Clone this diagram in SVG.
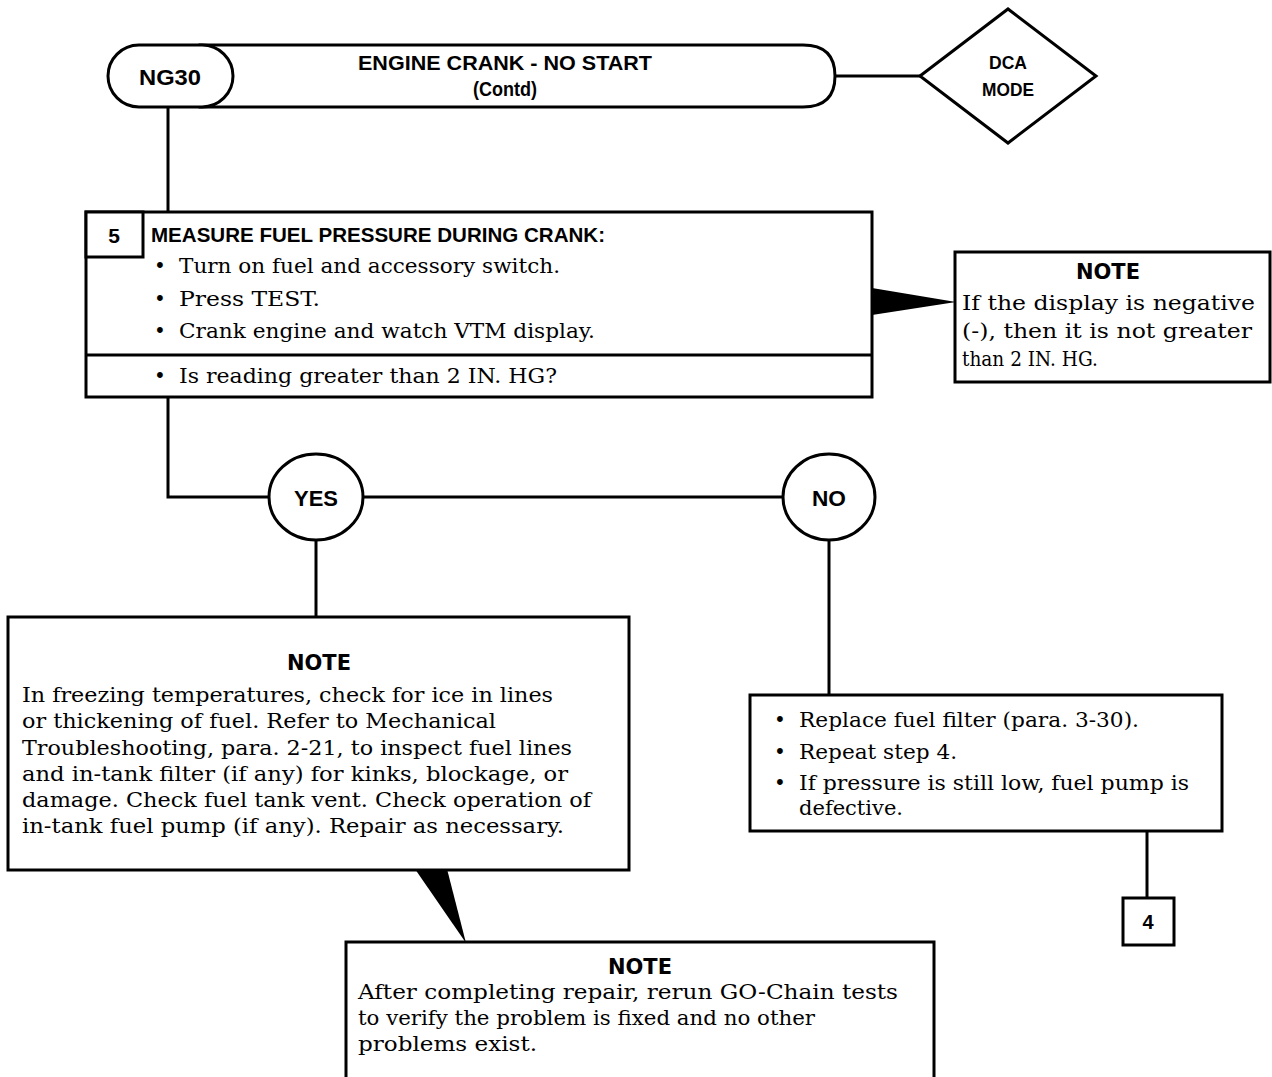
<svg xmlns="http://www.w3.org/2000/svg" width="1272" height="1077" viewBox="0 0 1272 1077">
<style>
.box{fill:#fff;stroke:#000;stroke-width:3}
.ln{fill:none;stroke:#000;stroke-width:3}
.wedge{fill:#000;stroke:none}
.hd{font-family:"Liberation Sans","DejaVu Sans",sans-serif;font-weight:bold;fill:#000;text-anchor:middle}
.note{font-family:"DejaVu Sans","Liberation Sans",sans-serif;font-weight:900;font-size:22px;fill:#000;text-anchor:middle}
.tx{font-family:"DejaVu Serif","Liberation Serif",serif;font-size:20px;fill:#000}
.bul{font-family:"DejaVu Serif","Liberation Serif",serif;font-size:20px;fill:#000;text-anchor:middle}
</style>
<rect width="1272" height="1077" fill="#fff"/>
<g id="connectors">
<path class="ln" d="M835 76 H920"/>
<path class="ln" d="M168 107 V212"/>
<path class="ln" d="M168 397 V497 H269"/>
<path class="ln" d="M363 497 H783"/>
<path class="ln" d="M316 540 V617"/>
<path class="ln" d="M829 540 V695"/>
<path class="ln" d="M1147 831 V898"/>
<polygon class="wedge" points="872,288 872,315 956,302"/>
<polygon class="wedge" points="415,869 447,869 466,943"/>
</g>
<g id="header">
<path class="box" d="M200 45 H803 Q835 45 835 76 Q835 107 803 107 H200 Z"/>
<text class="hd" x="505" y="70" font-size="21" textLength="294" lengthAdjust="spacingAndGlyphs">ENGINE CRANK - NO START</text>
<text class="hd" x="505" y="96" font-size="21" textLength="64" lengthAdjust="spacingAndGlyphs">(Contd)</text>
</g>
<g id="ng30">
<rect class="box" x="108" y="45" width="125" height="62" rx="31" ry="31"/>
<text class="hd" x="170" y="85" font-size="22" textLength="62" lengthAdjust="spacingAndGlyphs">NG30</text>
</g>
<g id="dca">
<polygon class="box" points="920,76 1008,9 1096,76 1008,143"/>
<text class="hd" x="1008" y="69" font-size="19" textLength="38" lengthAdjust="spacingAndGlyphs">DCA</text>
<text class="hd" x="1008" y="96" font-size="19" textLength="52" lengthAdjust="spacingAndGlyphs">MODE</text>
</g>
<g id="step5">
<rect class="box" x="86" y="212" width="786" height="185"/>
<rect class="box" x="86" y="212" width="57" height="45"/>
<path class="ln" d="M86 355 H872"/>
<text class="hd" x="114" y="243" font-size="21">5</text>
<text class="hd" x="151" y="242" font-size="20" style="text-anchor:start" textLength="454" lengthAdjust="spacingAndGlyphs">MEASURE FUEL PRESSURE DURING CRANK:</text>
<text class="bul" x="160" y="273">•</text>
<text class="tx" x="179" y="273" font-size="21" textLength="381" lengthAdjust="spacingAndGlyphs">Turn on fuel and accessory switch.</text>
<text class="bul" x="160" y="306">•</text>
<text class="tx" x="179" y="306" font-size="21" textLength="141" lengthAdjust="spacingAndGlyphs">Press TEST.</text>
<text class="bul" x="160" y="338">•</text>
<text class="tx" x="179" y="338" font-size="21" textLength="416" lengthAdjust="spacingAndGlyphs">Crank engine and watch VTM display.</text>
<text class="bul" x="160" y="383">•</text>
<text class="tx" x="179" y="383" font-size="21" textLength="378" lengthAdjust="spacingAndGlyphs">Is reading greater than 2 IN. HG?</text>
</g>
<g id="note1">
<rect class="box" x="955" y="252" width="315" height="130"/>
<text class="note" x="1108" y="279" textLength="64" lengthAdjust="spacingAndGlyphs">NOTE</text>
<text class="tx" x="962" y="310" font-size="21" textLength="293" lengthAdjust="spacingAndGlyphs">If the display is negative</text>
<text class="tx" x="962" y="338" font-size="21" textLength="290" lengthAdjust="spacingAndGlyphs">(-), then it is not greater</text>
<text class="tx" x="962" y="366" font-size="21" textLength="136" lengthAdjust="spacingAndGlyphs">than 2 IN. HG.</text>
</g>
<g id="yes">
<ellipse class="box" cx="316" cy="497" rx="47" ry="43"/>
<text class="hd" x="316" y="506" font-size="22" textLength="44" lengthAdjust="spacingAndGlyphs">YES</text>
</g>
<g id="no">
<ellipse class="box" cx="829" cy="497" rx="46" ry="43"/>
<text class="hd" x="829" y="506" font-size="22" textLength="34" lengthAdjust="spacingAndGlyphs">NO</text>
</g>
<g id="note2">
<rect class="box" x="8" y="617" width="621" height="253"/>
<text class="note" x="319" y="670" textLength="64" lengthAdjust="spacingAndGlyphs">NOTE</text>
<text class="tx" x="22" y="702" textLength="531" lengthAdjust="spacingAndGlyphs">In freezing temperatures, check for ice in lines</text>
<text class="tx" x="22" y="728" textLength="474" lengthAdjust="spacingAndGlyphs">or thickening of fuel. Refer to Mechanical</text>
<text class="tx" x="22" y="755" textLength="550" lengthAdjust="spacingAndGlyphs">Troubleshooting, para. 2-21, to inspect fuel lines</text>
<text class="tx" x="22" y="781" textLength="546" lengthAdjust="spacingAndGlyphs">and in-tank filter (if any) for kinks, blockage, or</text>
<text class="tx" x="22" y="807" textLength="569" lengthAdjust="spacingAndGlyphs">damage. Check fuel tank vent. Check operation of</text>
<text class="tx" x="22" y="833" textLength="542" lengthAdjust="spacingAndGlyphs">in-tank fuel pump (if any). Repair as necessary.</text>
</g>
<g id="note3">
<rect class="box" x="346" y="942" width="588" height="145"/>
<text class="note" x="640" y="974" textLength="64" lengthAdjust="spacingAndGlyphs">NOTE</text>
<text class="tx" x="358" y="999" textLength="540" lengthAdjust="spacingAndGlyphs">After completing repair, rerun GO-Chain tests</text>
<text class="tx" x="358" y="1025" textLength="457" lengthAdjust="spacingAndGlyphs">to verify the problem is fixed and no other</text>
<text class="tx" x="358" y="1051" textLength="179" lengthAdjust="spacingAndGlyphs">problems exist.</text>
</g>
<g id="action">
<rect class="box" x="750" y="695" width="472" height="136"/>
<text class="bul" x="780" y="727">•</text>
<text class="tx" x="799" y="727" textLength="340" lengthAdjust="spacingAndGlyphs">Replace fuel filter (para. 3-30).</text>
<text class="bul" x="780" y="759">•</text>
<text class="tx" x="799" y="759" textLength="158" lengthAdjust="spacingAndGlyphs">Repeat step 4.</text>
<text class="bul" x="780" y="790">•</text>
<text class="tx" x="799" y="790" textLength="390" lengthAdjust="spacingAndGlyphs">If pressure is still low, fuel pump is</text>
<text class="tx" x="799" y="815" textLength="104" lengthAdjust="spacingAndGlyphs">defective.</text>
</g>
<g id="goto4">
<rect class="box" x="1123" y="898" width="51" height="47"/>
<text class="hd" x="1148" y="929" font-size="20">4</text>
</g>
</svg>
